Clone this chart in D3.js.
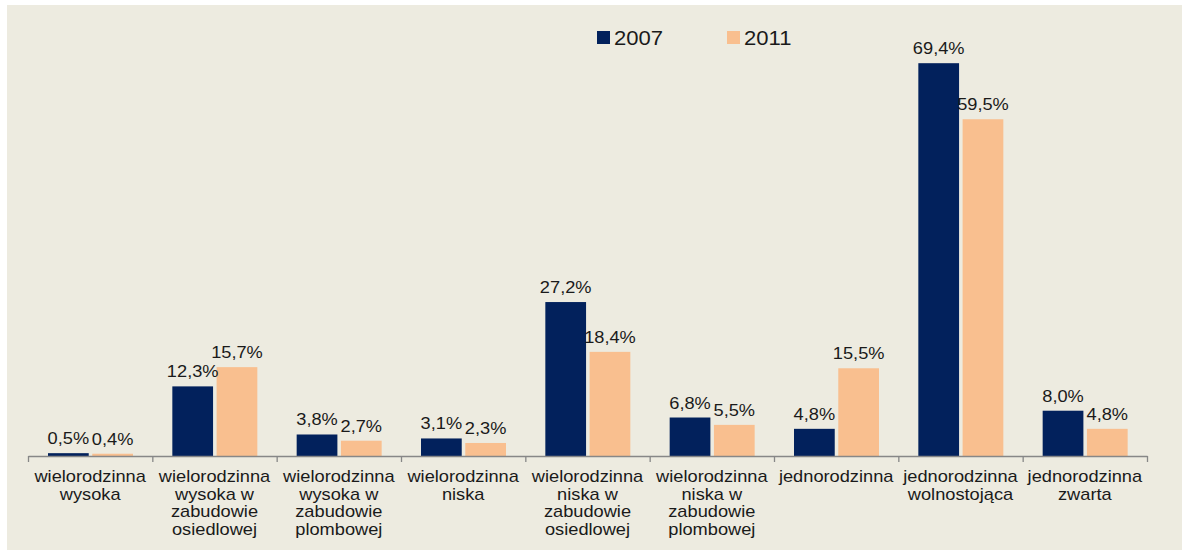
<!DOCTYPE html>
<html>
<head>
<meta charset="utf-8">
<script src="https://cdn.jsdelivr.net/npm/d3@7"></script>
<style>
html,body{margin:0;padding:0;background:#ffffff;}
svg{display:block;}
text{font-family:"Liberation Sans",Arial,sans-serif;fill:#1a1a1a;}
</style>
</head>
<body>
<svg id="chart" width="1182" height="551"></svg>
<script>
const categories = [
  ["wielorodzinna","wysoka"],
  ["wielorodzinna","wysoka w","zabudowie","osiedlowej"],
  ["wielorodzinna","wysoka w","zabudowie","plombowej"],
  ["wielorodzinna","niska"],
  ["wielorodzinna","niska w","zabudowie","osiedlowej"],
  ["wielorodzinna","niska w","zabudowie","plombowej"],
  ["jednorodzinna"],
  ["jednorodzinna","wolnostojąca"],
  ["jednorodzinna","zwarta"]
];
const seriesNames = ["2007","2011"];
const values2007 = [0.5,12.3,3.8,3.1,27.2,6.8,4.8,69.4,8.0];
const values2011 = [0.4,15.7,2.7,2.3,18.4,5.5,15.5,59.5,4.8];
const colors = ["#02215C","#F9BF8F"];

const svg = d3.select("#chart");
const SX = 1.14; // horizontal stretch of the original text

svg.append("rect").attr("x",7).attr("y",5).attr("width",1175).attr("height",545).attr("fill","#EDEBE0");

const x0 = d3.scaleBand().domain(d3.range(categories.length)).range([28,1147]).padding(0);
const x1 = d3.scaleBand().domain(seriesNames).range([20,105]).paddingInner(0.08);
const y = d3.scaleLinear().domain([0,80]).range([456,456-80*5.66]);

const data = categories.map((c,i)=>({i, vals:[values2007[i], values2011[i]]}));

const g = svg.append("g");
const groups = g.selectAll("g.cat").data(data).enter().append("g")
  .attr("transform", d=>`translate(${x0(d.i)},0)`);

groups.selectAll("rect").data(d=>d.vals.map((v,k)=>({v,k}))).enter().append("rect")
  .attr("x", d=>x1(seriesNames[d.k]))
  .attr("width", x1.bandwidth())
  .attr("y", d=>y(d.v))
  .attr("height", d=>y(0)-y(d.v))
  .attr("fill", d=>colors[d.k]);

const fmt = v => v.toFixed(1).replace(".",",") + "%";
groups.selectAll("text.val").data(d=>d.vals.map((v,k)=>({v,k}))).enter().append("text")
  .attr("class","val")
  .attr("transform", d=>`translate(${x1(seriesNames[d.k])+x1.bandwidth()/2},${y(d.v)-9}) scale(${SX},1)`)
  .attr("text-anchor","middle")
  .style("font-size","16px")
  .text(d=>fmt(d.v));

// axis with tick marks at category boundaries
const xt = d3.scaleLinear().domain([0,categories.length]).range([28,1147]);
const axis = d3.axisBottom(xt).tickValues(d3.range(categories.length+1)).tickSize(6).tickSizeOuter(0).tickFormat("");
const ax = svg.append("g").attr("transform","translate(0,456)").call(axis);
ax.select(".domain").attr("stroke","#878787").attr("stroke-width",1.6);
ax.selectAll(".tick line").attr("stroke","#878787").attr("stroke-width",1.3);

// category labels
categories.forEach((lines,i)=>{
  const cx = x0(i)+x0.bandwidth()/2;
  lines.forEach((ln,j)=>{
    svg.append("text")
      .attr("transform",`translate(${cx},${482+j*17.5}) scale(${SX},1)`)
      .attr("text-anchor","middle")
      .style("font-size","16px")
      .text(ln);
  });
});

// legend
const legendX = [597,727];
seriesNames.forEach((s,k)=>{
  svg.append("rect").attr("x",legendX[k]).attr("y",31).attr("width",13).attr("height",13).attr("fill",colors[k]);
  svg.append("text")
    .attr("transform",`translate(${legendX[k]+17},45) scale(1.05,1)`)
    .style("font-size","21px")
    .text(s);
});
</script>
</body>
</html>
